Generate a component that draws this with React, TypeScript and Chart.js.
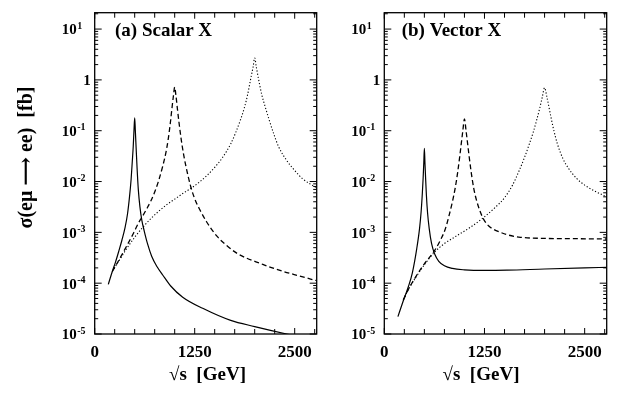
import React, { useEffect, useRef } from "react";
import { Chart, registerables } from "chart.js";

Chart.register(...registerables);

// ---------- data (sqrt(s) in GeV, sigma in fb) ----------
// (a) Scalar X
const aSolidS = [170, 220, 260, 300, 340, 380, 410, 435, 455, 470, 482, 492, 500, 508, 518, 530, 545, 565, 590, 620, 660, 712, 780, 850, 950, 1100, 1350, 1700, 2000, 2400, 2775];
const aSolidV = [9.5e-5, 1.7e-4, 2.6e-4, 4.2e-4, 7e-4, 1.25e-3, 2.3e-3, 5e-3, 0.011, 0.025, 0.05, 0.11, 0.18, 0.1, 0.045, 0.018, 7e-3, 3.2e-3, 1.7e-3, 1.05e-3, 6e-4, 3.4e-4, 2.1e-4, 1.45e-4, 8.8e-5, 5.3e-5, 3.2e-5, 1.85e-5, 1.4e-5, 1.0e-5, 7.5e-6];
const aDashS = [220, 300, 400, 483, 545, 600, 650, 700, 750, 800, 850, 890, 920, 945, 965, 985, 1000, 1015, 1035, 1055, 1080, 1110, 1150, 1200, 1250, 1316, 1400, 1525, 1650, 1775, 1900, 2066, 2200, 2358, 2550, 2775];
const aDashV = [1.7e-4, 2.8e-4, 5.4e-4, 9.5e-4, 1.5e-3, 2.1e-3, 2.9e-3, 4.1e-3, 6.2e-3, 0.0105, 0.02, 0.037, 0.07, 0.14, 0.27, 0.5, 0.72, 0.5, 0.26, 0.14, 0.07, 0.035, 0.017, 8e-3, 4.6e-3, 2.75e-3, 1.6e-3, 8.5e-4, 5.5e-4, 3.9e-4, 3.1e-4, 2.46e-4, 2.05e-4, 1.7e-4, 1.4e-4, 1.12e-4];
const aDotS = [220, 300, 400, 500, 600, 700, 800, 900, 1000, 1100, 1200, 1300, 1400, 1500, 1600, 1700, 1760, 1820, 1870, 1910, 1950, 1980, 2000, 2020, 2050, 2090, 2130, 2180, 2240, 2300, 2400, 2500, 2600, 2775];
const aDotV = [1.7e-4, 2.7e-4, 4.8e-4, 8e-4, 1.25e-3, 1.85e-3, 2.6e-3, 3.5e-3, 4.5e-3, 5.8e-3, 7.3e-3, 9.5e-3, 0.013, 0.019, 0.03, 0.055, 0.09, 0.16, 0.28, 0.5, 1.05, 1.8, 2.7, 1.8, 1.0, 0.5, 0.3, 0.165, 0.085, 0.048, 0.026, 0.0165, 0.0113, 0.0075];

// (b) Vector X
const bSolidS = [170, 237, 300, 350, 405, 440, 460, 475, 485, 493, 500, 507, 515, 525, 540, 560, 590, 630, 680, 750, 850, 1000, 1250, 1530, 2000, 2500, 2775];
const bSolidV = [2.2e-5, 4.5e-5, 8.5e-5, 1.6e-4, 4.8e-4, 1.2e-3, 2.6e-3, 6e-3, 0.012, 0.024, 0.045, 0.024, 0.012, 5.5e-3, 2.4e-3, 1.2e-3, 6e-4, 3.7e-4, 2.7e-4, 2.2e-4, 1.95e-4, 1.83e-4, 1.78e-4, 1.8e-4, 1.9e-4, 2.0e-4, 2.05e-4];
const bDashS = [237, 300, 400, 500, 600, 650, 700, 760, 810, 850, 885, 915, 940, 960, 980, 1000, 1020, 1040, 1060, 1085, 1115, 1150, 1195, 1240, 1300, 1363, 1450, 1530, 1700, 2000, 2400, 2775];
const bDashV = [4.7e-5, 7.5e-5, 1.4e-4, 2.4e-4, 3.8e-4, 5e-4, 7e-4, 1.15e-3, 2.2e-3, 4e-3, 7.5e-3, 0.015, 0.03, 0.055, 0.1, 0.17, 0.1, 0.055, 0.03, 0.015, 7.5e-3, 4.3e-3, 2.6e-3, 1.8e-3, 1.35e-3, 1.15e-3, 1e-3, 9e-4, 8e-4, 7.6e-4, 7.5e-4, 7.4e-4];
const bDotS = [237, 300, 400, 500, 634, 750, 900, 1071, 1238, 1384, 1500, 1600, 1680, 1750, 1810, 1860, 1900, 1940, 1970, 2000, 2030, 2070, 2110, 2160, 2230, 2300, 2400, 2500, 2650, 2775];
const bDotV = [4.7e-5, 7.5e-5, 1.35e-4, 2.3e-4, 4.2e-4, 6e-4, 8.5e-4, 1.25e-3, 1.95e-3, 3.1e-3, 4.8e-3, 8.5e-3, 0.016, 0.03, 0.055, 0.095, 0.16, 0.28, 0.45, 0.7, 0.45, 0.22, 0.11, 0.055, 0.028, 0.018, 0.0115, 8.5e-3, 6.2e-3, 5e-3];

const xTickValues = [0, 250, 500, 750, 1000, 1250, 1500, 1750, 2000, 2250, 2500, 2750];
const xTickLabels = ["0", "", "", "", "", "1250", "", "", "", "", "2500", ""];
const yExponents = [-5, -4, -3, -2, -1, 0, 1];
const xMin = 0;
const xMax = 2775;
const yMin = 1e-5;
const yMax = 21;

const FONT = '"Liberation Serif", "DejaVu Serif", serif';

function pts(xs: number[], ys: number[]) {
  return xs.map((x, i) => ({ x, y: ys[i] }));
}

type PanelCfg = {
  title: string;
  titleX: number;
  xTitleX: number;
  yTitle?: { x: number; y: number };
  padding: { left: number; right: number; top: number; bottom: number };
  solid: { x: number; y: number }[];
  dash: { x: number; y: number }[];
  dot: { x: number; y: number }[];
};

function makeDecor(cfg: PanelCfg) {
  return {
    id: "decor",
    afterDraw(chart: any) {
      const ctx = chart.ctx as CanvasRenderingContext2D;
      const a = chart.chartArea;
      const xs = chart.scales.x;
      const ys = chart.scales.y;
      ctx.save();
      ctx.strokeStyle = "#000";
      ctx.fillStyle = "#000";
      ctx.lineWidth = 1.3;
      ctx.strokeRect(a.left, a.top, a.right - a.left, a.bottom - a.top);
      ctx.lineWidth = 1;
      // x ticks (bottom and top, inward)
      xTickValues.forEach((v, i) => {
        const px = xs.getPixelForValue(v);
        if (px < a.left - 0.5 || px > a.right + 0.5) return;
        const len = xTickLabels[i] ? 6 : 5;
        ctx.beginPath();
        ctx.moveTo(px, a.bottom);
        ctx.lineTo(px, a.bottom - len);
        ctx.moveTo(px, a.top);
        ctx.lineTo(px, a.top + len);
        ctx.stroke();
      });
      // y ticks (left and right, inward)
      for (let e = -5; e <= 1; e++) {
        for (let m = 1; m <= 9; m++) {
          const v = m * Math.pow(10, e);
          if (v < yMin || v > yMax) continue;
          const py = ys.getPixelForValue(v);
          const len = m === 1 ? 7 : 3.5;
          ctx.beginPath();
          ctx.moveTo(a.left, py);
          ctx.lineTo(a.left + len, py);
          ctx.moveTo(a.right, py);
          ctx.lineTo(a.right - len, py);
          ctx.stroke();
        }
      }
      // y tick labels
      yExponents.forEach((e) => {
        const py = ys.getPixelForValue(Math.pow(10, e));
        if (e === 0) {
          ctx.font = `bold 15px ${FONT}`;
          ctx.textAlign = "right";
          ctx.textBaseline = "middle";
          ctx.fillText("1", a.left - 4, py + 1.5);
        } else {
          ctx.font = `bold 15px ${FONT}`;
          ctx.textAlign = "right";
          ctx.textBaseline = "middle";
          ctx.fillText("10", a.left - 18, py + 1.5);
          ctx.font = `bold 10px ${FONT}`;
          ctx.textAlign = "left";
          ctx.fillText(e < 0 ? "-" + Math.abs(e) : String(e), a.left - 17.5, py - 3);
        }
      });
      // x tick labels
      ctx.font = `bold 17px ${FONT}`;
      ctx.textAlign = "center";
      ctx.textBaseline = "middle";
      xTickValues.forEach((v, i) => {
        if (!xTickLabels[i]) return;
        ctx.fillText(xTickLabels[i], xs.getPixelForValue(v), a.bottom + 18.5);
      });
      // x title
      ctx.font = `bold 19px ${FONT}`;
      ctx.fillText("\u221As  [GeV]", cfg.xTitleX, 375);
      // panel title
      ctx.textAlign = "left";
      ctx.fillText(cfg.title, cfg.titleX, 31);
      // y title
      if (cfg.yTitle) {
        ctx.save();
        ctx.translate(cfg.yTitle.x, cfg.yTitle.y);
        ctx.rotate(-Math.PI / 2);
        ctx.textAlign = "center";
        ctx.font = `bold 20px "Liberation Serif", "DejaVu Serif", "DejaVu Sans", serif`;
        ctx.fillText("\u03C3(e\u03BC \u27F6 ee)  [fb]", 0, 0);
        ctx.restore();
      }
      ctx.restore();
    },
  };
}

function Panel({ cfg, width, left }: { cfg: PanelCfg; width: number; left: number }) {
  const ref = useRef<HTMLCanvasElement | null>(null);
  useEffect(() => {
    if (!ref.current) return;
    const chart = new Chart(ref.current, {
      type: "line",
      data: {
        datasets: [
          { data: cfg.solid, borderColor: "#000", borderWidth: 1.2, pointRadius: 0, cubicInterpolationMode: "monotone" },
          { data: cfg.dash, borderColor: "#000", borderWidth: 1.3, borderDash: [5, 3], pointRadius: 0, cubicInterpolationMode: "monotone" },
          { data: cfg.dot, borderColor: "#000", borderWidth: 1.1, borderDash: [1.2, 2], pointRadius: 0, cubicInterpolationMode: "monotone" },
        ],
      },
      options: {
        responsive: false,
        animation: false,
        events: [],
        layout: { padding: cfg.padding },
        plugins: { legend: { display: false }, tooltip: { enabled: false } },
        scales: {
          x: { type: "linear", min: xMin, max: xMax, display: false },
          y: { type: "logarithmic", min: yMin, max: yMax, display: false },
        },
      },
      plugins: [makeDecor(cfg)],
    } as any);
    return () => chart.destroy();
  }, []);
  return (
    <canvas
      ref={ref}
      width={width}
      height={397}
      style={{ position: "absolute", left, top: 0, width, height: 397 }}
    />
  );
}

const leftCfg: PanelCfg = {
  title: "(a) Scalar X",
  titleX: 115,
  xTitleX: 207.5,
  yTitle: { x: 27, y: 157.5 },
  padding: { left: 94.7, right: 340 - 316.7, top: 12.7, bottom: 397 - 334 },
  solid: pts(aSolidS, aSolidV),
  dash: pts(aDashS, aDashV),
  dot: pts(aDotS, aDotV),
};

const rightCfg: PanelCfg = {
  title: "(b) Vector X",
  titleX: 401.7 - 340,
  xTitleX: 481 - 340,
  padding: { left: 384.3 - 340, right: 280 - (606.7 - 340), top: 12.7, bottom: 397 - 334 },
  solid: pts(bSolidS, bSolidV),
  dash: pts(bDashS, bDashV),
  dot: pts(bDotS, bDotV),
};

export default function App() {
  return (
    <div style={{ position: "absolute", left: 0, top: 0, width: 620, height: 397, background: "#fff" }}>
      <Panel cfg={leftCfg} width={340} left={0} />
      <Panel cfg={rightCfg} width={280} left={340} />
    </div>
  );
}
